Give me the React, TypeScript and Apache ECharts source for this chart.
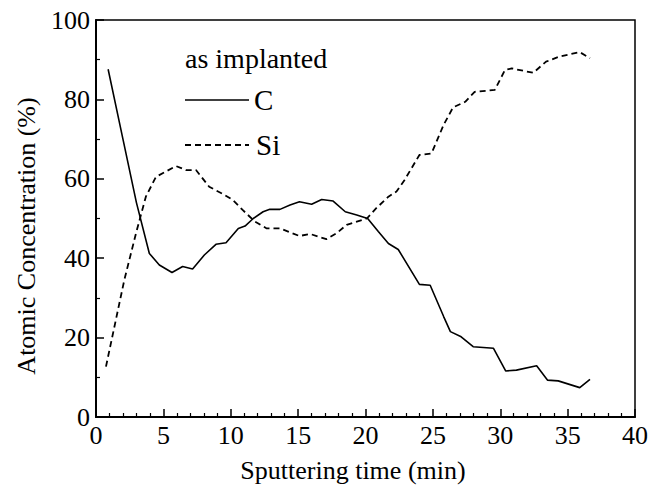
import React, { useEffect, useRef } from "react";
import * as echarts from "echarts";

const xTicks = [0, 5, 10, 15, 20, 25, 30, 35, 40];
const yTicks = [0, 20, 40, 60, 80, 100];

const carbonTime = [0.9, 2, 3, 3.96, 4.7, 5.64, 6.43, 7.17, 8.04, 8.9, 9.65, 10.56, 11.06, 11.67, 12.4, 12.9, 13.65, 14.4, 15.1, 16.0, 16.75, 17.6, 18.5, 19.35, 20.16, 20.95, 21.7, 22.43, 24.0, 24.8, 25.8, 26.3, 27.1, 27.99, 29.5, 30.4, 31.2, 32.7, 33.5, 34.3, 35.9, 36.66];
const carbonConc = [87.6, 70, 54, 41.2, 38.3, 36.4, 37.9, 37.3, 40.8, 43.5, 43.9, 47.5, 48.1, 50, 51.7, 52.3, 52.3, 53.4, 54.2, 53.6, 54.8, 54.4, 51.7, 50.9, 50.0, 46.7, 43.7, 42.2, 33.4, 33.2, 25.3, 21.5, 20.2, 17.7, 17.3, 11.6, 11.8, 12.9, 9.3, 9.1, 7.4, 9.5];

const siliconTime = [0.74, 2.1, 2.97, 3.7, 4.45, 5.94, 6.68, 7.42, 8.4, 9.4, 10.14, 10.9, 11.8, 12.67, 13.65, 15.1, 15.9, 17.1, 17.86, 18.6, 20.1, 20.8, 21.7, 22.3, 22.9, 24.0, 24.9, 25.8, 26.5, 27.4, 28.1, 29.6, 30.35, 30.85, 32.45, 33.4, 34.4, 35.9, 36.66];
const siliconConc = [12.7, 34.5, 46.3, 55.5, 60.5, 63.2, 62.2, 62.2, 58, 56.2, 54.7, 52.1, 49.2, 47.5, 47.5, 45.6, 46.1, 44.8, 46.3, 48.4, 50, 52.6, 55.5, 56.8, 59.7, 66, 66.4, 73.6, 78, 79.4, 81.9, 82.4, 87.4, 87.8, 86.7, 89.5, 90.8, 91.9, 90.4];

const FONT = "Liberation Serif, serif";

export default function App() {
  const ref = useRef<HTMLDivElement>(null);
  useEffect(() => {
    if (!ref.current) return;
    const chart = echarts.init(ref.current, null, { renderer: "svg" });
    const cData = carbonTime.map((t, i) => [t, carbonConc[i]]);
    const sData = siliconTime.map((t, i) => [t, siliconConc[i]]);
    const txt = (size: number) => ({ fontFamily: FONT, fontSize: size, fill: "#000" });
    chart.setOption({
      animation: false,
      backgroundColor: "#fff",
      textStyle: { fontFamily: FONT },
      grid: {
        left: 96, top: 20, right: 20, bottom: 74,
        show: true, borderColor: "#000", borderWidth: 1.5, backgroundColor: "transparent",
      },
      xAxis: {
        type: "value", min: xTicks[0], max: xTicks[xTicks.length - 1], interval: 5,
        axisLine: { show: true, lineStyle: { color: "#000", width: 2 } },
        axisTick: { show: true, inside: true, length: 8, lineStyle: { color: "#000", width: 1.5 } },
        minorTick: { show: true, splitNumber: 5, length: 4, lineStyle: { color: "#000", width: 1.2 } },
        splitLine: { show: false },
        axisLabel: { color: "#000", fontSize: 26, fontFamily: FONT, margin: 5 },
      },
      yAxis: {
        type: "value", min: yTicks[0], max: yTicks[yTicks.length - 1], interval: 20,
        axisLine: { show: true, lineStyle: { color: "#000", width: 2 } },
        axisTick: { show: true, inside: true, length: 8, lineStyle: { color: "#000", width: 1.5 } },
        minorTick: { show: true, splitNumber: 2, length: 4, lineStyle: { color: "#000", width: 1.2 } },
        splitLine: { show: false },
        axisLabel: { color: "#000", fontSize: 26, fontFamily: FONT, margin: 6 },
      },
      series: [
        {
          name: "C", type: "line", data: cData, showSymbol: false, symbol: "none",
          lineStyle: { color: "#000", width: 1.6, type: "solid" },
        },
        {
          name: "Si", type: "line", data: sData, showSymbol: false, symbol: "none",
          lineStyle: { color: "#000", width: 1.8, type: [6, 4] },
        },
      ],
      graphic: [
        { type: "text", left: 185, top: 44, style: { text: "as implanted", ...txt(28) } },
        { type: "line", shape: { x1: 185, y1: 100, x2: 249, y2: 100 }, style: { stroke: "#000", lineWidth: 1.6 } },
        { type: "text", left: 254, top: 85, style: { text: "C", ...txt(29) } },
        { type: "line", shape: { x1: 185, y1: 145, x2: 249, y2: 145 }, style: { stroke: "#000", lineWidth: 1.8, lineDash: [6, 4] } },
        { type: "text", left: 256, top: 130, style: { text: "Si", ...txt(29) } },
        {
          type: "text", x: 26, y: 236, rotation: Math.PI / 2,
          style: { text: "Atomic Concentration (%)", ...txt(26), align: "center", verticalAlign: "middle" },
        },
        {
          type: "text", x: 353, y: 470,
          style: { text: "Sputtering time (min)", ...txt(26), align: "center", verticalAlign: "middle" },
        },
      ],
    });
    return () => chart.dispose();
  }, []);
  return <div ref={ref} style={{ position: "fixed", left: 0, top: 0, width: 655, height: 491 }} />;
}
